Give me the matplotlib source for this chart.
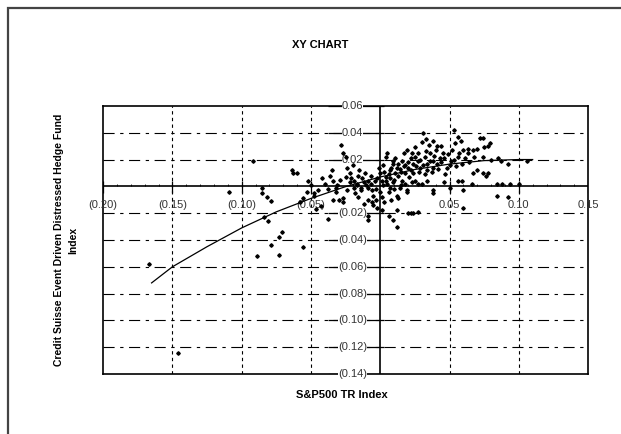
import matplotlib
matplotlib.use('Agg')
import matplotlib.pyplot as plt
from matplotlib.patches import Rectangle

plt.rcParams['font.family'] = ['Liberation Sans', 'DejaVu Sans']

# scatter points (S&P500 return, hedge fund index return)
pts_x = [-0.167, -0.146, -0.092, -0.109, -0.085, -0.085, -0.082, -0.079, -0.084, -0.081,
         -0.071, -0.073, -0.079, -0.073, -0.089, -0.056, -0.064, -0.063, -0.060, -0.052,
         -0.053, -0.048, -0.045, -0.056, -0.058, -0.048, -0.046, -0.038, -0.043,
         -0.028, -0.027, -0.025, -0.035, -0.032, -0.030, -0.027, -0.034, -0.024, -0.022,
         -0.019, -0.017, -0.014, -0.012, -0.009, -0.011, -0.005, -0.009, -0.025, -0.022,
         -0.019, -0.017, -0.014, -0.009, -0.007, -0.006, -0.005, -0.009, -0.012, -0.009,
         -0.006, -0.027, -0.034, -0.032, -0.040, -0.038, -0.031, -0.029, -0.021, -0.016,
         -0.013, -0.010, -0.007, -0.004, -0.003, -0.002, -0.015, -0.020, -0.018, -0.024,
         -0.003, -0.002, -0.016, -0.042, -0.050, -0.036,
         -0.001, 0.000, 0.001, 0.002, 0.004, 0.005, 0.007, 0.009, 0.009, 0.011,
         0.012, 0.013, 0.014, 0.016, 0.017, 0.018, 0.019, 0.020, 0.022, 0.023,
         0.024, 0.025, 0.027, 0.027, 0.029, 0.030, 0.031, 0.032, 0.034, 0.035,
         0.036, 0.038, 0.038, 0.040, 0.041, 0.043, 0.045, 0.048, 0.051, 0.052,
         0.053, 0.054, 0.056, 0.056, 0.058, 0.059, 0.060, 0.063, 0.063, 0.067,
         0.070, 0.072, 0.074, 0.079, 0.074, 0.067, 0.074, 0.076, 0.087, 0.092,
         0.106, 0.059, 0.056, 0.084, 0.094,
         0.005, 0.007, 0.009, 0.014, 0.019, 0.023, 0.027, 0.038, 0.038, 0.012,
         0.013, 0.000, 0.001, 0.004, 0.019, 0.012, 0.022, 0.009, 0.006, 0.060,
         0.060, 0.084, 0.007, 0.020,
         0.003, 0.006, 0.008, 0.010, 0.011, 0.013, 0.015, 0.016, 0.017, 0.018,
         0.020, 0.021, 0.022, 0.024, 0.025, 0.026, 0.028, 0.029, 0.031, 0.032,
         0.033, 0.034, 0.036, 0.037, 0.039, 0.041, 0.042, 0.044, 0.046, 0.047,
         0.049, 0.050, 0.053, 0.055, 0.057, 0.061, 0.064, 0.068, 0.002, 0.004,
         0.006, 0.010, 0.015, 0.018, 0.025, 0.030, 0.034, 0.046, 0.050, 0.003,
         0.001, 0.008, 0.027, 0.024, 0.012, 0.033, 0.038, 0.044, 0.080, 0.085,
         0.075, 0.078, 0.088, 0.092, 0.100, 0.066, 0.070, 0.078]
pts_y = [-0.058, -0.124, 0.019, -0.004, -0.001, -0.005, -0.008, -0.011, -0.023, -0.026,
         -0.034, -0.038, -0.044, -0.051, -0.052, -0.045, 0.012, 0.010, 0.010, 0.004,
         -0.004, -0.005, -0.003, -0.009, -0.012, -0.007, -0.017, -0.024, -0.015,
         0.031, 0.025, 0.022, 0.012, -0.004, -0.010, -0.012, 0.004, 0.014, 0.010,
         0.004, 0.001, -0.001, 0.003, -0.001, 0.010, -0.014, -0.025, 0.007, 0.003,
         -0.001, 0.002, -0.003, 0.004, 0.008, -0.003, -0.007, -0.010, -0.013, -0.022,
         -0.012, -0.009, -0.010, -0.001, 0.002, -0.002, 0.001, 0.005, 0.006, 0.008,
         0.006, 0.001, 0.002, 0.004, -0.002, 0.006, 0.012, 0.016, -0.005, -0.003,
         -0.010, -0.016, -0.008, 0.006, 0.001, 0.008,
         0.014, 0.010, 0.004, 0.001, 0.022, 0.025, 0.012, 0.017, 0.019, 0.010,
         0.014, 0.017, 0.013, 0.019, 0.025, 0.016, 0.027, 0.014, 0.021, 0.025,
         0.017, 0.029, 0.019, 0.025, 0.014, 0.033, 0.040, 0.022, 0.017, 0.031,
         0.025, 0.014, 0.019, 0.027, 0.017, 0.021, 0.025, 0.014, 0.019, 0.027,
         0.042, 0.032, 0.022, 0.037, 0.034, 0.017, 0.027, 0.028, 0.025, 0.027,
         0.028, 0.036, 0.036, 0.032, 0.022, 0.010, 0.010, 0.008, 0.019, 0.017,
         0.019, 0.004, 0.004, 0.002, 0.002,
         0.002, -0.001, 0.003, -0.001, -0.003, 0.003, 0.002, -0.003, -0.005, -0.007,
         -0.009, -0.004, -0.008, 0.004, -0.004, -0.018, -0.020, -0.025, -0.022, -0.003,
         -0.016, -0.007, 0.006, -0.020,
         0.011, 0.009, 0.014, 0.005, 0.021, 0.008, 0.011, 0.004, 0.015, 0.010,
         0.018, 0.007, 0.012, 0.010, 0.022, 0.015, 0.011, 0.020, 0.016, 0.009,
         0.026, 0.012, 0.019, 0.011, 0.023, 0.030, 0.013, 0.018, 0.021, 0.009,
         0.024, 0.016, 0.020, 0.015, 0.025, 0.021, 0.018, 0.022, 0.016, 0.007,
         -0.004, -0.002, 0.001, 0.002, 0.004, 0.002, 0.004, 0.003, -0.001, -0.012,
         -0.018, -0.010, -0.019, -0.020, -0.030, 0.035, 0.034, 0.030, 0.020, 0.021,
         0.029, 0.030, 0.002, -0.008, 0.002, 0.002, 0.012, 0.010]

# trend line
trend_x = [-0.165, -0.15, -0.125, -0.10, -0.075, -0.05, -0.025, 0.0, 0.025, 0.05, 0.075, 0.10, 0.11]
trend_y = [-0.072, -0.060, -0.045, -0.031, -0.019, -0.009, -0.0002, 0.007, 0.0126, 0.0166, 0.0192, 0.020, 0.020]

xticks = [-0.20, -0.15, -0.10, -0.05, 0.05, 0.10, 0.15]
xtick_labels = ['(0.20)', '(0.15)', '(0.10)', '(0.05)', '0.05', '0.10', '0.15']
yticks = [0.06, 0.04, 0.02, -0.02, -0.04, -0.06, -0.08, -0.10, -0.12, -0.14]
ytick_labels = ['0.06', '0.04', '0.02', '(0.02)', '(0.04)', '(0.06)', '(0.08)', '(0.10)', '(0.12)', '(0.14)']

fig = plt.figure(figsize=(6.21, 4.34), dpi=100)
ax = fig.add_axes([0.166, 0.138, 0.781, 0.618])
ax.set_xlim(-0.20, 0.15)
ax.set_ylim(-0.14, 0.06)
ax.set_xticks([])
ax.set_yticks([])
for s in ax.spines.values():
    s.set_linewidth(1.2)

# grid
for y in yticks[1:-1]:
    ax.axhline(y, color='black', lw=0.8, dashes=(10, 5, 3, 5), zorder=1)
for x in xticks[1:-1]:
    ax.axvline(x, color='black', lw=0.8, dashes=(3, 3), zorder=1)
ax.axhline(0, color='black', lw=1.2, zorder=2)
ax.axvline(0, color='black', lw=1.2, zorder=2)

# tick marks crossing the zero lines
ax.hlines(yticks, -0.038, 0.003, color='black', lw=0.9, zorder=2)
ax.vlines(xticks, -0.005, 0.004, color='black', lw=0.9, zorder=2)
minor_x = [i / 100 for i in range(-19, 15)]
ax.vlines(minor_x, 0, 0.0018, color='black', lw=0.6, zorder=2)

for x, lab in zip(xticks, xtick_labels):
    ax.text(x, -0.014, lab, ha='center', va='center', fontsize=8, color='#333333', zorder=3)
for y, lab in zip(yticks, ytick_labels):
    ax.text(-0.020, y, lab, ha='center', va='center', fontsize=8, color='#333333',
            bbox=dict(fc='white', ec='none', pad=0.1), zorder=3, clip_on=False)

ax.plot(trend_x, trend_y, color='black', lw=0.9, zorder=4)
ax.plot(pts_x, pts_y, 'D', color='black', markersize=1.8, linestyle='none', zorder=5)

fig.text(320 / 621, 0.896, 'XY CHART', ha='center', va='center', fontsize=8, fontweight='bold')
fig.text(0.551, 0.090, 'S&P500 TR Index', ha='center', va='center', fontsize=8, fontweight='bold')
fig.text(66 / 621, 0.447, 'Credit Suisse Event Driven Distressed Hedge Fund\nIndex', ha='center',
         va='center', rotation=90, fontsize=7.5, fontweight='bold', multialignment='center',
         linespacing=1.6)

fig.patches.append(Rectangle((8 / 621, -0.2), 1.2, (434 - 8) / 434 + 0.2, transform=fig.transFigure,
                             fill=False, ec='#444444', lw=1.6))

fig.savefig('out.png', dpi=100)
